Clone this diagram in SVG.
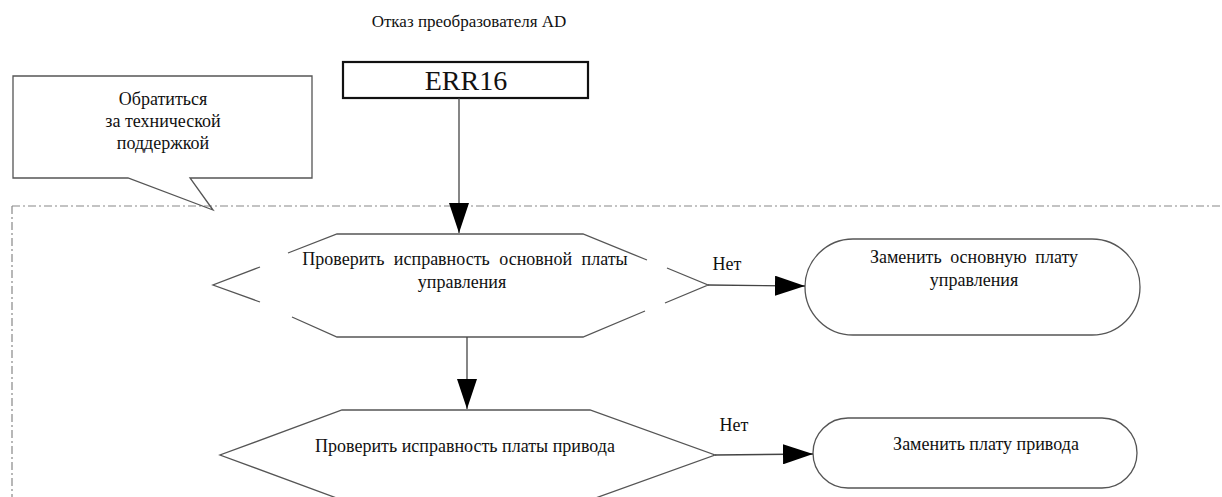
<svg xmlns="http://www.w3.org/2000/svg" width="1222" height="497" viewBox="0 0 1222 497">
<style>
text{font-family:"Liberation Serif","Times New Roman",serif;fill:#111;}
.t{font-size:18px;text-anchor:middle;}
.shape{fill:none;stroke:#555;stroke-width:1.3;}
.conn{fill:none;stroke:#444;stroke-width:1.3;}
.frame{fill:none;stroke:#888;stroke-width:1.2;stroke-dasharray:8 3 2 3;}
</style>
<defs>
<marker id="ah" markerWidth="30" markerHeight="20" refX="30" refY="10" orient="auto" markerUnits="userSpaceOnUse"><path d="M0,0 L30,10 L0,20 z" fill="#000"/></marker>
</defs>
<rect width="1222" height="497" fill="#fff"/>
<g id="frame">
<path class="frame" d="M12,206 H1222 M12,206 V497"/>
</g>
<g id="title">
<text class="t" x="469" y="27" style="font-size:17px">Отказ преобразователя AD</text>
</g>
<g id="callout">
<path class="shape" d="M128,178 H13 V76 H312 V178 H190 L213,210 Z" fill="#fff"/>
<text class="t" x="163" y="105">Обратиться</text>
<text class="t" x="163" y="127">за технической</text>
<text class="t" x="163" y="149">поддержкой</text>
</g>
<g id="err16">
<rect x="343" y="62" width="245" height="36" fill="#fff" stroke="#111" stroke-width="2.2"/>
<text x="466" y="90" style="font-size:28px;text-anchor:middle;">ERR16</text>
</g>
<g id="check1">
<path class="shape" d="M288,253 L337,234 H583 L647,260 M667,268 L708,285 L665,303 M645,311 L583,337 H337 L292,317 M260,302 L213,285 L260,267"/>
<text class="t" x="465" y="265" style="word-spacing:5px">Проверить исправность основной платы</text>
<text class="t" x="462" y="288">управления</text>
</g>
<g id="replace1">
<rect class="shape" x="805" y="239" width="335" height="96" rx="48"/>
<text class="t" x="974" y="263" style="word-spacing:4px">Заменить основную плату</text>
<text class="t" x="974" y="286">управления</text>
</g>
<g id="check2">
<path class="shape" d="M342,410 H590 L715,455 L590,500 H342 L220,455 Z"/>
<text class="t" x="465" y="452">Проверить исправность платы привода</text>
</g>
<g id="replace2">
<rect class="shape" x="813" y="418" width="324" height="70" rx="35"/>
<text class="t" x="986" y="450">Заменить плату привода</text>
</g>
<g id="connectors">
<line class="conn" x1="459" y1="98" x2="459" y2="233" marker-end="url(#ah)"/>
<line class="conn" x1="708" y1="285" x2="805" y2="286" marker-end="url(#ah)"/>
<line class="conn" x1="467" y1="337" x2="467" y2="409" marker-end="url(#ah)"/>
<line class="conn" x1="715" y1="455" x2="813" y2="454" marker-end="url(#ah)"/>
<text class="t" x="727" y="270">Нет</text>
<text class="t" x="734" y="431">Нет</text>
</g>
</svg>
